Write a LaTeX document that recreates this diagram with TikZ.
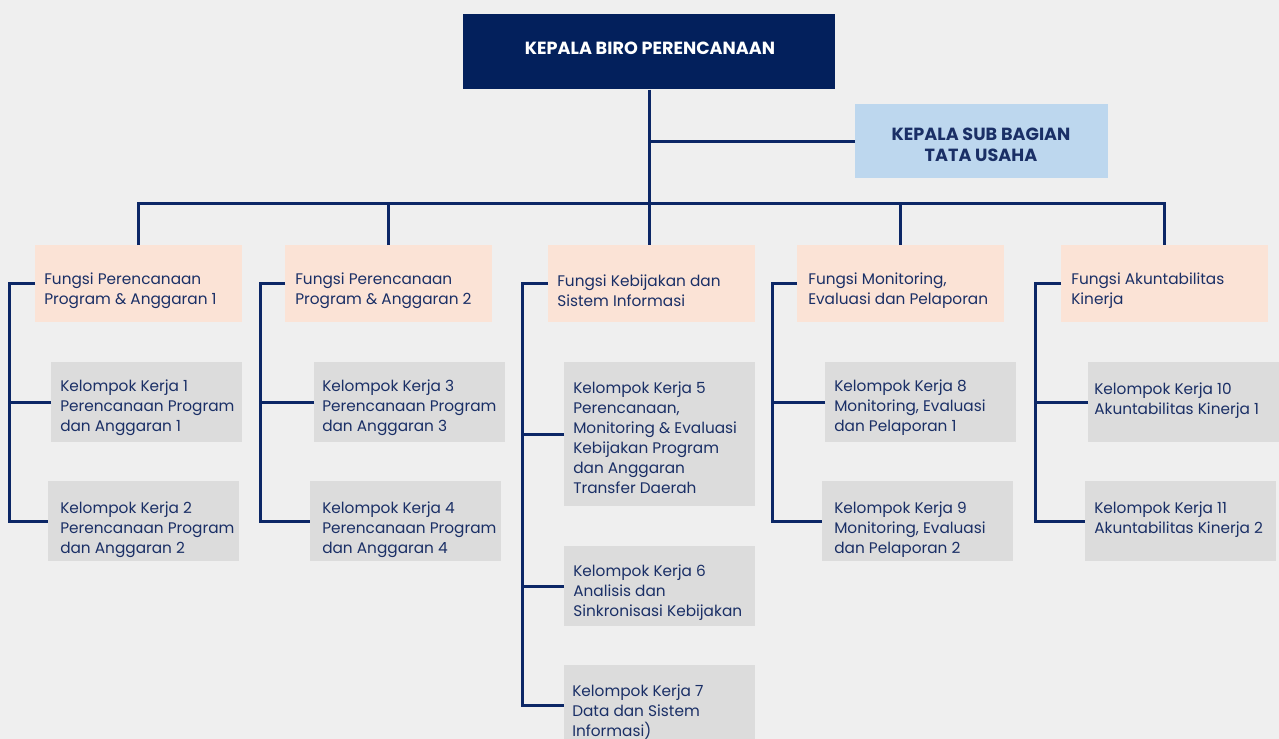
\documentclass[tikz,border=0pt]{standalone}
\usepackage{fontspec}
\setmainfont{Poppins}
\definecolor{bg}{HTML}{EFEFEF}
\definecolor{navy}{HTML}{03205C}
\definecolor{linec}{HTML}{0C2766}
\definecolor{ntext}{HTML}{1A2F66}
\definecolor{peach}{HTML}{FBE3D6}
\definecolor{greyb}{HTML}{DCDCDC}
\definecolor{lblue}{HTML}{BDD7EE}
\tikzset{
  boxbase/.style={draw=none, inner sep=0pt, anchor=north west},
  fbox/.style={boxbase, fill=peach, minimum width=155.25pt, minimum height=57.75pt},
  kbox/.style={boxbase, fill=greyb, minimum width=143.25pt, minimum height=60pt},
  txt/.style={align=left, inner sep=0pt, anchor=west, text=ntext, font=\fontsize{11.5}{15}\selectfont},
  conn/.style={draw=linec, line width=2.25pt},
  headtxt/.style={inner sep=0pt, align=center, font=\bfseries\fontsize{13.2}{15.5}\selectfont},
}
\begin{document}
\begin{tikzpicture}[x=0.75pt, y=-0.75pt]
\fill[bg] (0,0) rectangle (1279,739);
\useasboundingbox (0,0) rectangle (1279,739);

% top boxes
\node[boxbase, fill=navy, minimum width=279pt, minimum height=56.25pt] (top) at (463,14) {};
\node[headtxt, text=white] (topt) at (650,48) {KEPALA BIRO PERENCANAAN};
\node[boxbase, fill=lblue, minimum width=189.75pt, minimum height=55.5pt] (sub) at (855,104) {};
\node[headtxt, text=ntext] (subt) at (981,145) {KEPALA SUB BAGIAN\\TATA USAHA};

% fungsi boxes
\node[fbox] (f1) at (35,245) {};
\node[fbox] (f2) at (285,245) {};
\node[fbox] (f3) at (548,245) {};
\node[fbox] (f4) at (797,245) {};
\node[fbox] (f5) at (1061,245) {};
\node[txt] (f1t) at ([xshift=6.75pt,yshift=-5.25pt]f1.west) {Fungsi Perencanaan\\Program \& Anggaran 1};
\node[txt] (f2t) at ([xshift=7.5pt,yshift=-5.25pt]f2.west) {Fungsi Perencanaan\\Program \& Anggaran 2};
\node[txt] (f3t) at ([xshift=6.75pt,yshift=-5.25pt]f3.west) {Fungsi Kebijakan dan\\Sistem Informasi};
\node[txt] (f4t) at ([xshift=8.25pt,yshift=-5.25pt]f4.west) {Fungsi Monitoring,\\Evaluasi dan Pelaporan};
\node[txt] (f5t) at ([xshift=7.5pt,yshift=-5.25pt]f5.west) {Fungsi Akuntabilitas\\Kinerja};

% kelompok kerja boxes
\node[kbox] (k1) at (51,362) {};
\node[kbox] (k2) at (48,481) {};
\node[kbox] (k3) at (314,362) {};
\node[kbox] (k4) at (310,481) {};
\node[kbox, minimum height=108pt] (k5) at (564,362) {};
\node[kbox] (k6) at (564,546) {};
\node[kbox, minimum height=75pt] (k7) at (564,665) {};
\node[kbox] (k8) at (825,362) {};
\node[kbox] (k9) at (822,481) {};
\node[kbox] (k10) at (1088,362) {};
\node[kbox] (k11) at (1085,481) {};

\node[txt] (k1t) at ([xshift=6.75pt,yshift=-4.25pt]k1.west) {Kelompok Kerja 1\\Perencanaan Program\\dan Anggaran 1};
\node[txt] (k2t) at ([xshift=9pt,yshift=-6.5pt]k2.west) {Kelompok Kerja 2\\Perencanaan Program\\dan Anggaran 2};
\node[txt] (k3t) at ([xshift=6pt,yshift=-4.25pt]k3.west) {Kelompok Kerja 3\\Perencanaan Program\\dan Anggaran 3};
\node[txt] (k4t) at ([xshift=9pt,yshift=-6.5pt]k4.west) {Kelompok Kerja 4\\Perencanaan Program\\dan Anggaran 4};
\node[txt] (k5t) at ([xshift=6.75pt,yshift=-2.75pt]k5.west) {Kelompok Kerja 5\\Perencanaan,\\Monitoring \& Evaluasi\\Kebijakan Program\\dan Anggaran\\Transfer Daerah};
\node[txt] (k6t) at ([xshift=6.75pt,yshift=-5pt]k6.west) {Kelompok Kerja 6\\Analisis dan\\Sinkronisasi Kebijakan};
\node[txt, anchor=north west] (k7t) at (572,685) {Kelompok Kerja 7\\Data dan Sistem\\Informasi)};
\node[txt] (k8t) at ([xshift=6.75pt,yshift=-4.25pt]k8.west) {Kelompok Kerja 8\\Monitoring, Evaluasi\\dan Pelaporan 1};
\node[txt] (k9t) at ([xshift=9pt,yshift=-6.5pt]k9.west) {Kelompok Kerja 9\\Monitoring, Evaluasi\\dan Pelaporan 2};
\node[txt] (k10t) at ([xshift=4.5pt,yshift=1.5pt]k10.west) {Kelompok Kerja 10\\Akuntabilitas Kinerja 1};
\node[txt] (k11t) at ([xshift=6.75pt,yshift=1.5pt]k11.west) {Kelompok Kerja 11\\Akuntabilitas Kinerja 2};

% connectors from top
\coordinate (bus) at (650,203);
\draw[conn] (top.south) -- (top.south |- f3.north);
\draw[conn] (sub.west) -- (sub.west -| top.south);
\draw[conn] (f1.north) |- (bus) -| (f5.north);
\draw[conn] (f2.north) -- (f2.north |- bus);
\draw[conn] (f4.north) -- (f4.north |- bus);

% group connectors
\coordinate (g1) at (9,0);
\coordinate (g2) at (260,0);
\coordinate (g3) at (522,0);
\coordinate (g4) at (772,0);
\coordinate (g5) at (1035,0);
\draw[conn] (f1.west) -- (f1.west -| g1) |- (k2.west);
\draw[conn] (k1.west) -- (k1.west -| g1);
\draw[conn] (f2.west) -- (f2.west -| g2) |- (k4.west);
\draw[conn] (k3.west) -- (k3.west -| g2);
\draw[conn] (f3.west) -- (f3.west -| g3) |- ([yshift=-0.75*40pt]k7.north west);
\draw[conn] (k5.west) -- (k5.west -| g3);
\draw[conn] (k6.west) -- (k6.west -| g3);
\draw[conn] (f4.west) -- (f4.west -| g4) |- (k9.west);
\draw[conn] (k8.west) -- (k8.west -| g4);
\draw[conn] (f5.west) -- (f5.west -| g5) |- (k11.west);
\draw[conn] (k10.west) -- (k10.west -| g5);
\end{tikzpicture}
\end{document}
